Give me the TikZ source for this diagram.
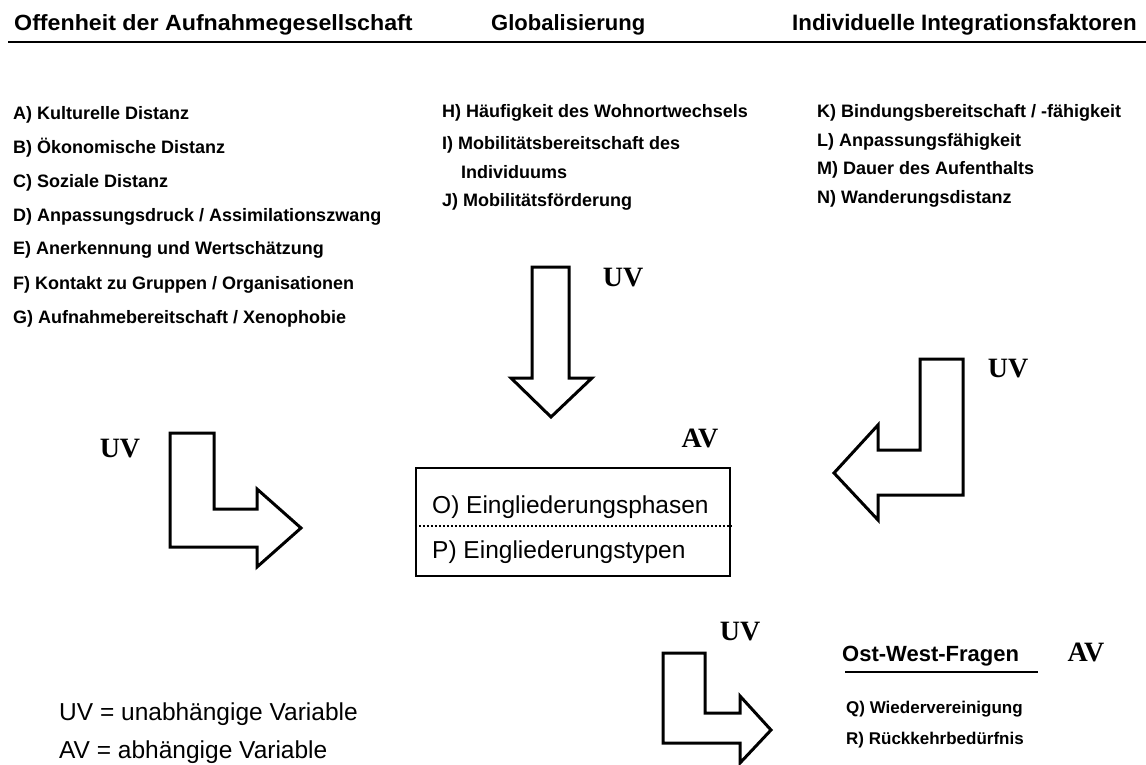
\documentclass[tikz,border=0pt]{standalone}
\usepackage{fontspec}
\setmainfont{Liberation Sans}
\newfontfamily\tnr{Liberation Serif}
\newfontfamily\hdrfont[FakeStretch=1.055]{Liberation Sans}
\begin{document}
\begin{tikzpicture}[x=1pt,y=-1pt,
  hdr/.style={font=\hdrfont\fontsize{22}{22}\selectfont\bfseries, anchor=base west, inner sep=0},
  owhdr/.style={font=\fontsize{22}{22}\selectfont\bfseries, anchor=base west, inner sep=0},
  item/.style={font=\fontsize{18}{18}\selectfont\bfseries, anchor=base west, inner sep=0},
  smallitem/.style={font=\fontsize{17}{17}\selectfont\bfseries, anchor=base west, inner sep=0},
  lbl/.style={font=\tnr\fontsize{28}{28}\selectfont\bfseries, inner sep=0},
  boxtxt/.style={font=\fontsize{24.5}{24.5}\selectfont, anchor=base west, inner sep=0},
  legend/.style={font=\fontsize{24.5}{24.5}\selectfont, anchor=base west, inner sep=0},
  bigarrow/.style={draw, line width=3pt, miter limit=10}]
\useasboundingbox (0,0) rectangle (1146,765);
% headers
\node[hdr] (h1) at (14,31) {Offenheit der Aufnahmegesellschaft};
\node[owhdr] (h2) at (491,31) {Globalisierung};
\node[owhdr, font=\fontsize{22.3}{22.3}\selectfont\bfseries] (h3) at (792,31) {Individuelle Integrationsfaktoren};
\draw[line width=2pt] (8,42) -- (1146,42);
% left list
\node[item] (a) at (13,119.5) {A) Kulturelle Distanz};
\node[item] (b) at (13,153.5) {B) Ökonomische Distanz};
\node[item] (c) at (13,187) {C) Soziale Distanz};
\node[item] (d) at (13,221) {D) Anpassungsdruck / Assimilationszwang};
\node[item] (e) at (13,254.5) {E) Anerkennung und Wertschätzung};
\node[item] (f) at (13,289) {F) Kontakt zu Gruppen / Organisationen};
\node[item] (g) at (13,323) {G) Aufnahmebereitschaft / Xenophobie};
% middle list
\node[item] (hh) at (442,118) {H) Häufigkeit des Wohnortwechsels};
\node[item] (ii) at (442,149.5) {I) Mobilitätsbereitschaft des};
\node[item] (ii2) at (461,178.5) {Individuums};
\node[item] (jj) at (442,206.5) {J) Mobilitätsförderung};
% right list
\node[item] (k) at (817,118) {K) Bindungsbereitschaft / -fähigkeit};
\node[item] (l) at (817,146.5) {L) Anpassungsfähigkeit};
\node[item] (m) at (817,175) {M) Dauer des Aufenthalts};
\node[item] (n) at (817,203.5) {N) Wanderungsdistanz};
% arrows
\draw[bigarrow] (532,267) -- (569,267) -- (569,378) -- (592,378) -- (551,417) -- (511,378) -- (532,378) -- cycle;
\draw[bigarrow] (170,433) -- (214,433) -- (214,509) -- (257,509) -- (257,489) -- (301,528) -- (257,567) -- (257,547) -- (170,547) -- cycle;
\draw[bigarrow] (920,359) -- (963,359) -- (963,495) -- (878,495) -- (878,520) -- (834,473) -- (878,425) -- (878,450) -- (920,450) -- cycle;
\draw[bigarrow] (663,653) -- (705,653) -- (705,713) -- (740,713) -- (740,696) -- (771,730) -- (740,763) -- (740,743) -- (663,743) -- cycle;
% UV / AV labels
\node[lbl] (uv1) at (623,278) {UV};
\node[lbl] (uv2) at (120,449) {UV};
\node[lbl] (uv3) at (1008,369) {UV};
\node[lbl] (uv4) at (740,632) {UV};
\node[lbl] (av1) at (700,438) {AV};
\node[lbl] (av2) at (1086,652) {AV};
% central box
\node[draw, line width=2.5pt, minimum width=314pt, minimum height=108pt, inner sep=0] (box) at (573,522) {};
\draw[line width=2.5pt, dash pattern=on 2pt off 2pt] ([yshift=-4pt]box.west) -- ([yshift=-4pt]box.east);
\node[boxtxt] (o) at (432,513) {O) Eingliederungsphasen};
\node[boxtxt] (p) at (432,558) {P) Eingliederungstypen};
% Ost-West
\node[owhdr] (ow) at (842,661) {Ost-West-Fragen};
\draw[line width=1.5pt] (845,672) -- (1038,672);
\node[smallitem] (q) at (846,713) {Q) Wiedervereinigung};
\node[smallitem] (r) at (846,744) {R) Rückkehrbedürfnis};
% legend
\node[legend] (leg1) at (59,720) {UV = unabhängige Variable};
\node[legend] (leg2) at (59,758) {AV = abhängige Variable};
\end{tikzpicture}
\end{document}
